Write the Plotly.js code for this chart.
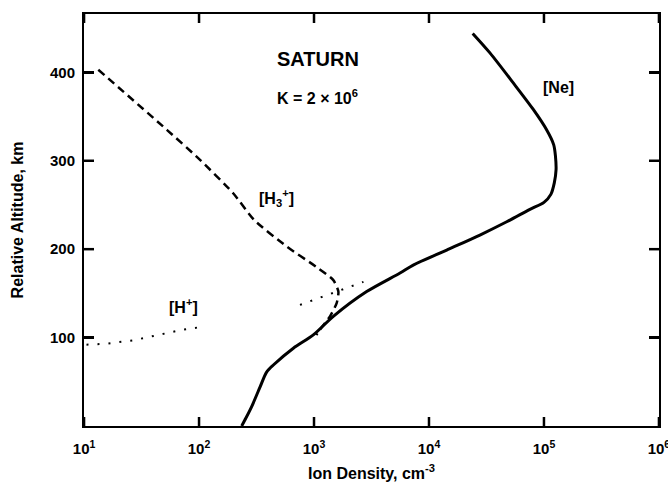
<!DOCTYPE html>
<html>
<head>
<meta charset="utf-8">
<script src="https://cdn.plot.ly/plotly-3.0.1.min.js"></script>
<style>html,body{margin:0;padding:0;background:#fff;}#chart{width:668px;height:485px;}</style>
</head>
<body>
<div id="chart"></div>
<script>
// Ne (solid) — ion density (cm^-3) vs relative altitude (km)
const neDensity = [235, 251, 287, 339, 387, 443, 661, 986, 1472, 2871, 5598, 7295, 14260, 27730, 47430, 75510, 100000, 114800, 123000, 127400, 125900, 121600, 105400, 80720, 54080, 33880, 23990];
const neAltitude = [0, 7, 22, 44, 61, 69, 88, 103, 124, 152, 173, 182, 199, 216, 231, 245, 253, 262, 275, 290, 305, 318, 335, 358, 388, 422, 444];

// H3+ (dashed)
const h3Density = [13.3, 52.5, 102, 199, 302, 579, 1047, 1472, 1629, 1574, 1377, 1127, 1047];
const h3Altitude = [403, 335, 301, 263, 233, 203, 180, 165, 152, 139, 124, 109, 103];

// H+ (dotted, with a gap in the print)
const hDensity = [10.5, 15.7, 26.9, 40.1, 72.9, 104.7, null, 755, 1923, 2692];
const hAltitude = [92, 93, 97, 102, 109, 112, null, 137, 156, 163];

const xTickVals = [10, 100, 1000, 10000, 100000, 1000000];
const xTickText = ['10<sup>1</sup>', '10<sup>2</sup>', '10<sup>3</sup>', '10<sup>4</sup>', '10<sup>5</sup>', '10<sup>6</sup>'];
const yTickVals = [100, 200, 300, 400];

const FONT = 'Liberation Sans, Arial, sans-serif';
const X_RANGE = [0.9995, 6.0005];
const Y_RANGE = [0, 466];

const W = 668, H = 485;
const M = {l: 84, r: 9, t: 14, b: 59};
const plotW = W - M.l - M.r, plotH = H - M.t - M.b;
const XTICK_PX = 9, YTICK_PX = 10;

// inward-pointing tick marks on all four sides, positioned from the tick arrays
const tickLine = {color: '#000', width: 2.5};
const shapes = [];
xTickVals.forEach(v => {
  const f = (Math.log10(v) - X_RANGE[0]) / (X_RANGE[1] - X_RANGE[0]);
  shapes.push({type: 'line', layer: 'above', xref: 'paper', yref: 'paper', x0: f, x1: f, y0: 0, y1: XTICK_PX / plotH, line: tickLine});
  shapes.push({type: 'line', layer: 'above', xref: 'paper', yref: 'paper', x0: f, x1: f, y0: 1, y1: 1 - XTICK_PX / plotH, line: tickLine});
});
yTickVals.forEach(v => {
  const f = (v - Y_RANGE[0]) / (Y_RANGE[1] - Y_RANGE[0]);
  shapes.push({type: 'line', layer: 'above', xref: 'paper', yref: 'paper', x0: 0, x1: YTICK_PX / plotW, y0: f, y1: f, line: tickLine});
  shapes.push({type: 'line', layer: 'above', xref: 'paper', yref: 'paper', x0: 1, x1: 1 - YTICK_PX / plotW, y0: f, y1: f, line: tickLine});
});

const traces = [
  {x: neDensity, y: neAltitude, mode: 'lines', line: {color: '#000', width: 3, shape: 'spline', smoothing: 0.8}, hoverinfo: 'skip'},
  {x: h3Density, y: h3Altitude, mode: 'lines', line: {color: '#000', width: 2.5, dash: '8px,5px', shape: 'spline', smoothing: 0.6}, hoverinfo: 'skip'},
  {x: hDensity, y: hAltitude, mode: 'lines', line: {color: '#000', width: 2, dash: '2px,9px'}, hoverinfo: 'skip', connectgaps: false}
];

const layout = {
  width: W, height: H,
  margin: M,
  paper_bgcolor: '#fff', plot_bgcolor: '#fff',
  showlegend: false,
  font: {family: FONT, color: '#000'},
  xaxis: {
    type: 'log', range: X_RANGE,
    tickvals: xTickVals, ticktext: xTickText,
    ticks: 'inside', ticklen: XTICK_PX, tickwidth: 2.5, tickcolor: '#000',
    showline: true, linewidth: 2, linecolor: '#000', mirror: 'ticks',
    showgrid: false, zeroline: false,
    ticklabelstandoff: 8, ticklabeloverflow: 'allow',
    tickfont: {family: FONT, size: 15, weight: 'bold'},
    title: {text: 'Ion Density, cm<sup>-3</sup>', font: {family: FONT, size: 16, weight: 'bold'}, standoff: 12}
  },
  yaxis: {
    range: Y_RANGE,
    tickvals: yTickVals,
    ticks: 'inside', ticklen: YTICK_PX, tickwidth: 2.5, tickcolor: '#000',
    showline: true, linewidth: 2, linecolor: '#000', mirror: 'ticks',
    showgrid: false, zeroline: false,
    ticklabelstandoff: 4,
    tickfont: {family: FONT, size: 15, weight: 'bold'},
    title: {text: 'Relative Altitude, km', font: {family: FONT, size: 16, weight: 'bold'}, standoff: 22}
  },
  shapes: shapes,
  annotations: [
    {x: 3.035, y: 415, xref: 'x', yref: 'y', text: 'SATURN', showarrow: false, font: {family: FONT, size: 20, weight: 'bold'}},
    {x: 3.026, y: 372, xref: 'x', yref: 'y', text: 'K = 2 × 10<sup>6</sup>', showarrow: false, font: {family: FONT, size: 16, weight: 'bold'}},
    {x: 2.678, y: 258, xref: 'x', yref: 'y', text: '[H<sub>3</sub><sup>+</sup>]', showarrow: false, font: {family: FONT, size: 16, weight: 'bold'}},
    {x: 1.861, y: 136, xref: 'x', yref: 'y', text: '[H<sup>+</sup>]', showarrow: false, font: {family: FONT, size: 16, weight: 'bold'}},
    {x: 5.13, y: 383, xref: 'x', yref: 'y', text: '[Ne]', showarrow: false, font: {family: FONT, size: 16, weight: 'bold'}}
  ]
};

Plotly.newPlot('chart', traces, layout, {staticPlot: true, displayModeBar: false});
</script>
</body>
</html>
